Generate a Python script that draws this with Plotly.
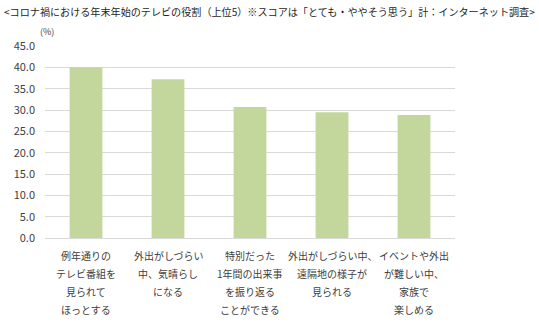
import plotly.graph_objects as go

# Top-5 roles of TV over the New Year holidays (% answering "very / somewhat")
categories = [
    "例年通りの<br>テレビ番組を<br>見られて<br>ほっとする",
    "外出がしづらい<br>中、気晴らし<br>になる",
    "特別だった<br>1年間の出来事<br>を振り返る<br>ことができる",
    "外出がしづらい中、<br>遠隔地の様子が<br>見られる",
    "イベントや外出<br>が難しい中、<br>家族で<br>楽しめる",
]
values = [40.0, 37.2, 30.7, 29.5, 28.8]
tick_vals = [0, 5, 10, 15, 20, 25, 30, 35, 40, 45]
tick_text = ["0.0", "5.0", "10.0", "15.0", "20.0", "25.0", "30.0", "35.0", "40.0", "45.0"]

title_text = "<コロナ禍における年末年始のテレビの役割（上位5）※スコアは「とても・ややそう思う」計：インターネット調査>"

FONT = "Noto Sans CJK JP"
TEXT_COLOR = "#404040"

fig = go.Figure(
    go.Bar(
        x=list(range(len(categories))),
        y=values,
        marker=dict(color="#C3D69B", line=dict(width=0)),
        width=0.4,
        hoverinfo="skip",
    )
)

# Category labels, one annotation per line for an even line pitch
annotations = []
for i, cat in enumerate(categories):
    for j, line in enumerate(cat.split("<br>")):
        annotations.append(dict(
            x=i, y=0, xref="x", yref="paper",
            text=line, showarrow=False,
            xanchor="center", yanchor="middle",
            yshift=-(17 + 18 * j),
            font=dict(family=FONT, size=10, color=TEXT_COLOR),
        ))

annotations.append(dict(
    x=0, y=1, xref="paper", yref="paper", text="(%)", showarrow=False,
    xanchor="center", yanchor="bottom", xshift=2, yshift=6,
    font=dict(family=FONT, size=9, color=TEXT_COLOR),
))

# Title as a paper annotation so it can span the full width
annotations.append(dict(
    x=0, y=1, xref="paper", yref="paper", text=title_text, showarrow=False,
    xanchor="left", yanchor="top", xshift=-43, yshift=44,
    font=dict(family=FONT, size=10.1, color="#262626"),
))

fig.update_layout(
    width=539, height=325,
    margin=dict(l=45, r=84, t=46, b=87),
    paper_bgcolor="white", plot_bgcolor="white",
    showlegend=False,
    xaxis=dict(
        range=[-0.5, len(categories) - 0.5],
        showticklabels=False, showgrid=False, zeroline=False,
        showline=True, linecolor="#D9D9D9", linewidth=1, ticks="",
        fixedrange=True,
    ),
    yaxis=dict(
        range=[0, 45], tickvals=tick_vals, ticktext=tick_text,
        showgrid=True, gridcolor="#D9D9D9", gridwidth=1,
        zeroline=False, showline=False, ticks="",
        ticklabelstandoff=9,
        tickfont=dict(family=FONT, size=11, color=TEXT_COLOR),
        fixedrange=True,
    ),
    annotations=annotations,
)

fig.write_html("out.html")
